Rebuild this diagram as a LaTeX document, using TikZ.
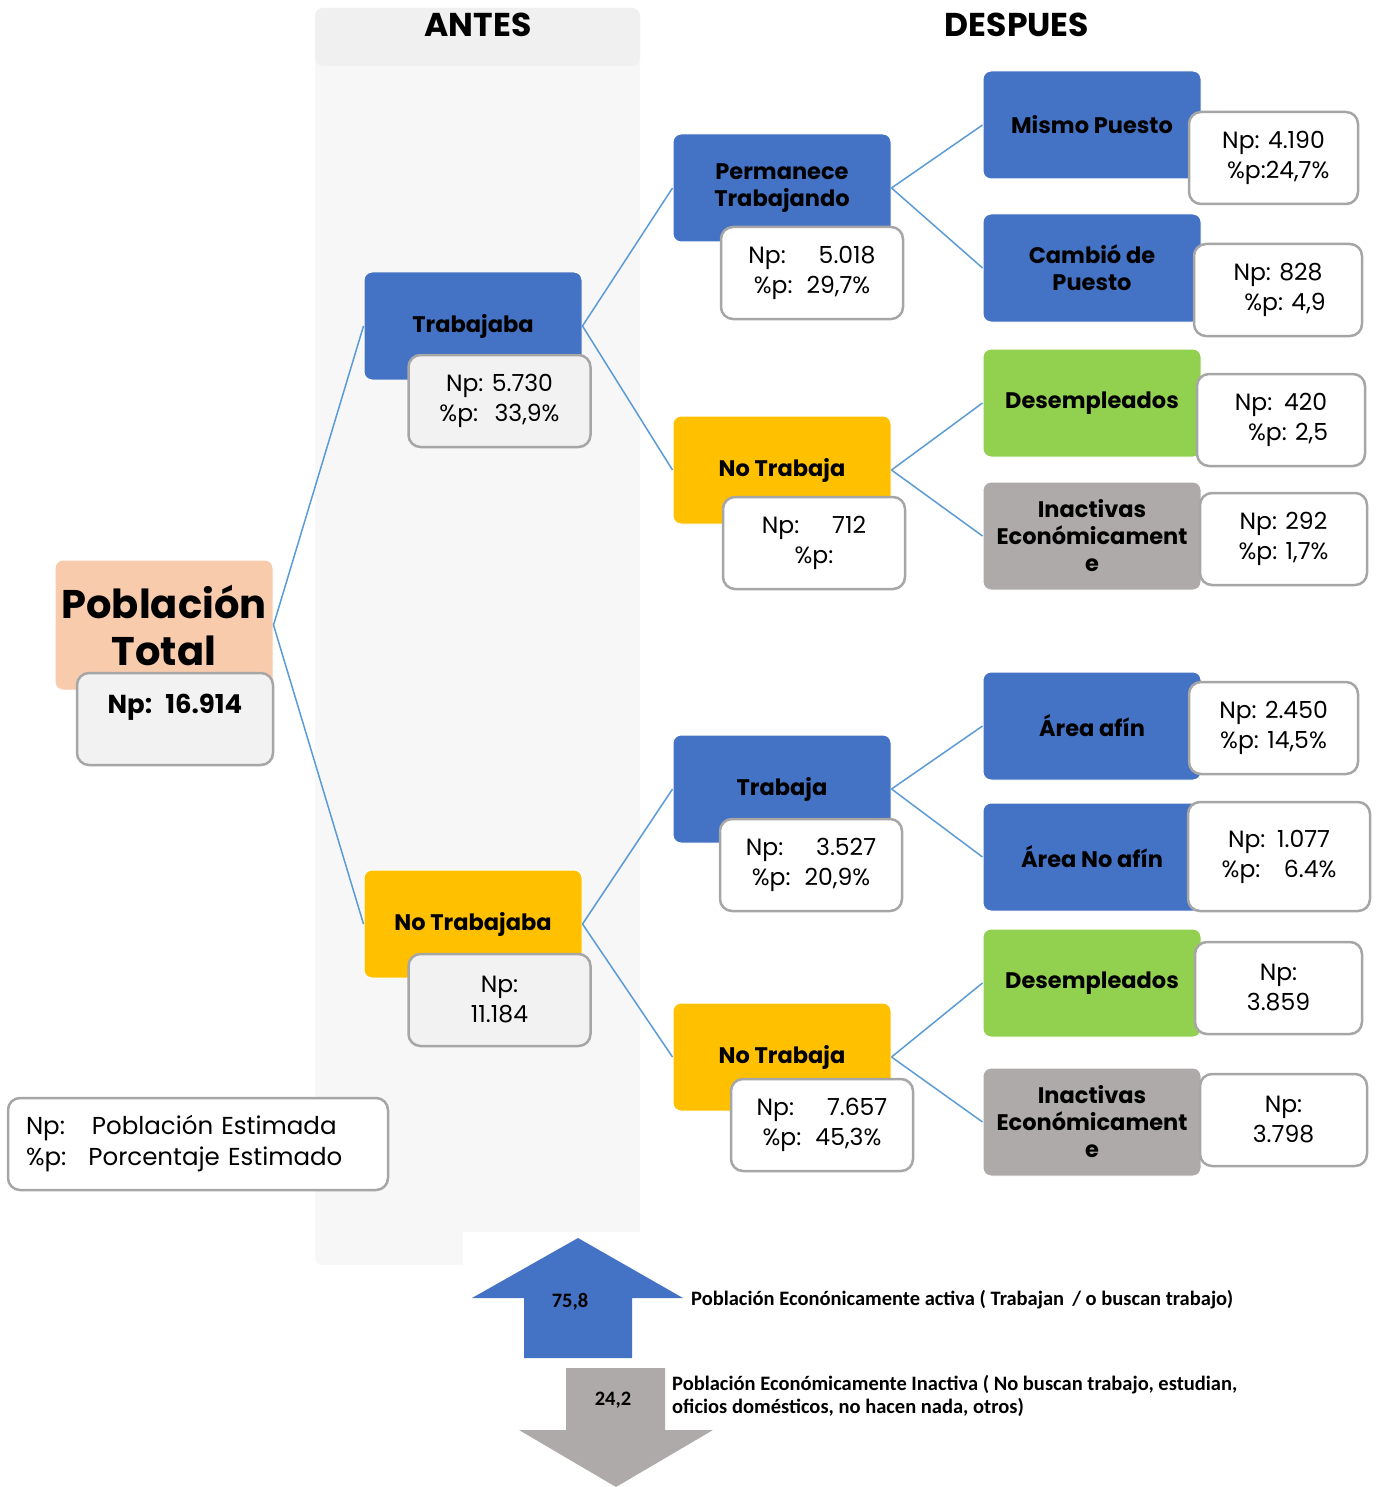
\documentclass[tikz,border=0pt]{standalone}
\usepackage{fontspec}
\setmainfont{Poppins}
\newfontfamily\calibfont{Carlito}
\usepackage{tikz}
\usetikzlibrary{positioning}
\definecolor{blueA}{HTML}{4472C4}
\definecolor{yellowA}{HTML}{FFC000}
\definecolor{greenA}{HTML}{92D050}
\definecolor{grayA}{HTML}{AEAAAA}
\definecolor{peachA}{HTML}{F8CBAD}
\definecolor{edgeA}{HTML}{A6A6A6}
\definecolor{lineA}{HTML}{5B9BD5}
\definecolor{colbg}{HTML}{F7F7F7}
\definecolor{colhd}{HTML}{F0F0F0}
\definecolor{valbg}{HTML}{F2F2F2}
\newcommand\catfont{\bfseries\fontsize{22.5}{27}\selectfont}
\newcommand\valfont{\fontsize{23.5}{30}\selectfont}
\tikzstyle{cat_box}=[rectangle, rounded corners=8pt, draw=white, line width=1pt,
  minimum width=218pt, minimum height=108pt, align=center, inner sep=0pt, font=\catfont]
\tikzstyle{cat_blue}=[cat_box, fill=blueA]
\tikzstyle{cat_yellow}=[cat_box, fill=yellowA]
\tikzstyle{cat_green}=[cat_box, fill=greenA]
\tikzstyle{cat_gray}=[cat_box, fill=grayA]
\tikzstyle{val_box}=[rectangle, rounded corners=12pt, draw=edgeA, line width=2.5pt, fill=white,
  minimum width=182pt, minimum height=92pt, align=center, inner sep=0pt, font=\valfont]
\tikzstyle{val_antes}=[val_box, fill=valbg]
\tikzstyle{link}=[draw=lineA, line width=1.5pt]
\tikzstyle{arrow_lbl}=[font=\calibfont\bfseries\fontsize{20.5}{23}\selectfont, inner sep=0pt]

\begin{document}
\begin{tikzpicture}[x=1pt, y=-1pt]
          \useasboundingbox (0,0) rectangle (1376,1487);
          \fill[colbg, rounded corners=8pt] (315,8) rectangle (640,1265);
          \fill[white] (463,1232) rectangle (642,1267);
          \fill[colhd, rounded corners=8pt] (315,8) rectangle (640,66);
          \node[font=\bfseries\fontsize{33}{36}\selectfont] (antes) at (478,25){ANTES};
          \node[font=\bfseries\fontsize{33}{36}\selectfont] (despues) at (1017,25){DESPUES};
          \node[cat_box, fill=peachA, minimum height=130pt, font=\bfseries\fontsize{40}{47}\selectfont] (pob) at (164,625){Población\\Total};
          \node[val_antes, minimum width=196pt, font=\bfseries\fontsize{26}{30}\selectfont] (pobv) at (175,719){Np:\enspace 16.914\\\mbox{}};
          \node[cat_blue] (trab) at (473,326){Trabajaba};
          \node[val_antes] (trabv) at (499.5,401){Np: 5.730\\\%p:\hspace{0.7em}33,9\%};
          \node[cat_yellow] (notrab) at (473,924){No Trabajaba};
          \node[val_antes] (notrabv) at (499.5,1000){Np:\\11.184};
          \node[cat_blue] (perm) at (782,188){Permanece\\Trabajando};
          \node[val_box] (permv) at (812,273){Np:\hspace{1.4em}5.018\\\%p:\hspace{0.6em}29,7\%};
          \node[cat_yellow] (notr1) at (782,470){No Trabaja};
          \node[val_box] (notr1v) at (814,543){Np:\hspace{1.4em}712\\\%p:};
          \node[cat_blue] (trj) at (782,789){Trabaja};
          \node[val_box] (trjv) at (811,865){Np:\hspace{1.4em}3.527\\\%p:\hspace{0.6em}20,9\%};
          \node[cat_yellow] (notr2) at (782,1057){No Trabaja};
          \node[val_box] (notr2v) at (822,1125){Np:\hspace{1.4em}7.657\\\%p:\hspace{0.6em}45,3\%};
          \node[cat_blue] (mismo) at (1092,125){Mismo Puesto};
          \node[val_box, minimum width=169pt] (mismov) at (1273.5,158){Np: 4.190\\\hspace{0.4em}\%p:24,7\%};
          \node[cat_blue] (camb) at (1092,268){Cambió de\\Puesto};
          \node[val_box, minimum width=168pt] (cambv) at (1278,290){Np: 828\\\hspace{0.6em}\%p: 4,9};
          \node[cat_green] (des1) at (1092,403){Desempleados};
          \node[val_box, minimum width=168pt] (des1v) at (1281,420){Np:\enspace 420\\\hspace{0.6em}\%p: 2,5};
          \node[cat_gray] (ina1) at (1092,536){Inactivas\\Económicament\\e};
          \node[val_box, minimum width=167pt] (ina1v) at (1283.5,539){Np: 292\\\%p: 1,7\%};
          \node[cat_blue] (afin) at (1092,726){Área afín};
          \node[val_box, minimum width=169pt] (afinv) at (1273.5,728){Np: 2.450\\\%p: 14,5\%};
          \node[cat_blue] (noafin) at (1092,857){Área No afín};
          \node[val_box, minimum height=109pt] (noafinv) at (1279,856.5){Np:\enspace 1.077\\\%p:\hspace{1em}6.4\%};
          \node[cat_green] (des2) at (1092,983){Desempleados};
          \node[val_box, minimum width=167pt] (des2v) at (1278.5,988){Np:\\3.859};
          \node[cat_gray] (ina2) at (1092,1122){Inactivas\\Económicament\\e};
          \node[val_box, minimum width=167pt] (ina2v) at (1283.5,1120){Np:\\3.798};
          \node[val_box, minimum width=380pt, text width=344pt, align=left, font=\fontsize{24.5}{31}\selectfont] (legend) at (198,1144){Np:\hspace{1.1em}Población Estimada\\\%p:\hspace{0.9em}Porcentaje Estimado};
          \draw[link](pob.east) -- (trab.west);
          \draw[link](pob.east) -- (notrab.west);
          \draw[link](trab.east) -- (perm.west);
          \draw[link](trab.east) -- (notr1.west);
          \draw[link](notrab.east) -- (trj.west);
          \draw[link](notrab.east) -- (notr2.west);
          \draw[link](perm.east) -- (mismo.west);
          \draw[link](perm.east) -- (camb.west);
          \draw[link](notr1.east) -- (des1.west);
          \draw[link](notr1.east) -- (ina1.west);
          \draw[link](trj.east) -- (afin.west);
          \draw[link](trj.east) -- (noafin.west);
          \draw[link](notr2.east) -- (des2.west);
          \draw[link](notr2.east) -- (ina2.west);
          \fill[blueA] (524,1358) -- (524,1298) -- (472,1298) -- (578,1238) -- (683,1298) -- (632,1298) -- (632,1358) -- cycle;
          \fill[grayA] (566,1368) -- (665,1368) -- (665,1430) -- (713,1430) -- (616,1487) -- (519,1430) -- (566,1430) -- cycle;
          \node[arrow_lbl] (up) at (570,1302){75,8};
          \node[arrow_lbl] (down) at (613,1400){24,2};
          \node[arrow_lbl, anchor=west] (active) at (691,1300){Población Econónicamente activa ( Trabajan\, / o buscan trabajo)};
          \node[arrow_lbl, anchor=west, align=left] (inactive) at (672,1396){Población Económicamente Inactiva ( No buscan trabajo, estudian,\\oficios domésticos, no hacen nada, otros)};
        \end{tikzpicture}
\end{document}
